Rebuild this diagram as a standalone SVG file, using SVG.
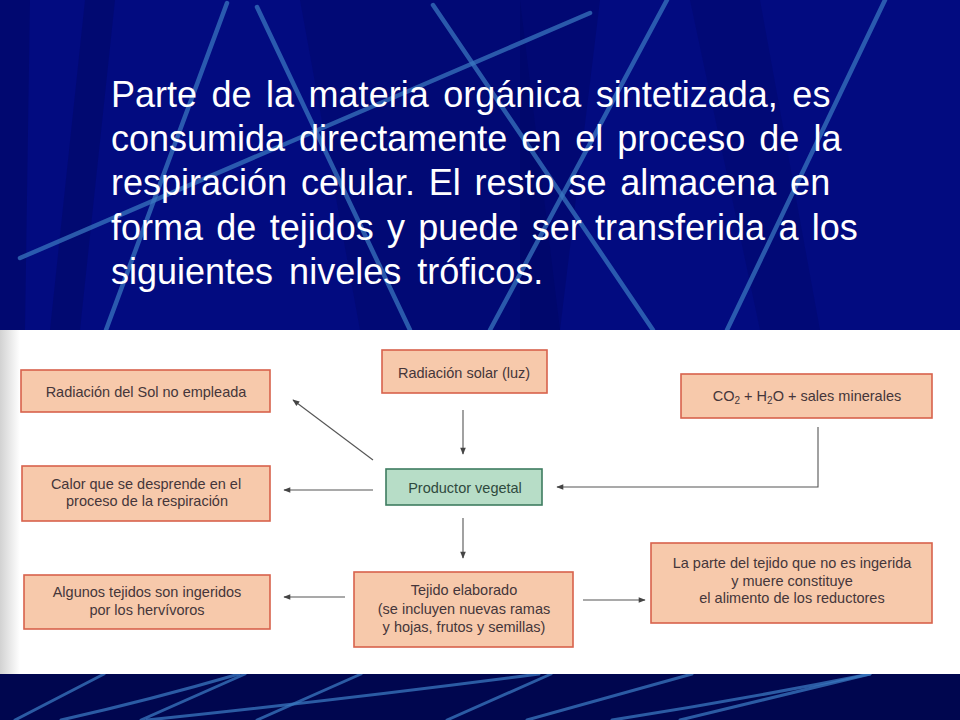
<svg xmlns="http://www.w3.org/2000/svg" width="960" height="720" viewBox="0 0 960 720">
<defs>
<style>
.bgline{stroke:#3a78c0;stroke-width:4.5;stroke-linecap:round;fill:none;opacity:0.72}
.bgline2{stroke:#3a78c0;stroke-width:3;stroke-linecap:round;fill:none;opacity:0.75}
.title{font-family:"Liberation Sans",Arial,sans-serif;font-size:36px;fill:#ffffff}
.box{fill:#f7c9ab;stroke:#d8624c;stroke-width:1.6}
.gbox{fill:#b7ddc7;stroke:#3e7c60;stroke-width:1.6}
.lbl{font-family:"Liberation Sans",Arial,sans-serif;font-size:14.5px;fill:#45363a;text-anchor:middle}
.glbl{font-family:"Liberation Sans",Arial,sans-serif;font-size:14.5px;fill:#2f4a3e;text-anchor:middle}
.conn{stroke:#555555;stroke-width:1.1;fill:none}
</style>
<marker id="ah" viewBox="0 0 10 10" refX="9" refY="5" markerWidth="9" markerHeight="7" markerUnits="userSpaceOnUse" orient="auto">
<path d="M0,1 L10,5 L0,9 Z" fill="#444444"/>
</marker>
<linearGradient id="lshade" x1="0" y1="0" x2="1" y2="0">
<stop offset="0" stop-color="#d2d2d2"/>
<stop offset="1" stop-color="#ffffff"/>
</linearGradient>
</defs>

<g id="background">
<rect x="0" y="0" width="960" height="720" fill="#020b80"/>
<polygon points="0,0 30,0 25,330 0,330" fill="#000660" opacity="0.5"/>
<polygon points="85,0 115,0 80,330 50,330" fill="#000660" opacity="0.45"/>
<polygon points="300,0 520,0 560,330 360,330" fill="#000660" opacity="0.35"/>
<polygon points="520,0 600,0 560,330 520,330" fill="#000660" opacity="0.4"/>
<polygon points="690,0 760,0 820,330 760,330" fill="#000660" opacity="0.3"/>
<line class="bgline" x1="20" y1="258" x2="590" y2="13"/>
<line class="bgline" x1="227" y1="3" x2="106" y2="330"/>
<line class="bgline" x1="257" y1="7" x2="410" y2="330"/>
<line class="bgline" x1="433" y1="5" x2="653" y2="330"/>
<line class="bgline" x1="667" y1="0" x2="490" y2="330"/>
<line class="bgline" x1="885" y1="0" x2="727" y2="330"/>
<rect x="0" y="674" width="960" height="46" fill="#00064f"/>
<path class="bgline2" d="M104,674 L15,720"/>
<path class="bgline2" d="M239,674 Q150,700 61,720"/>
<path class="bgline2" d="M245,674 L141,720"/>
<path class="bgline2" d="M361,674 L257,720"/>
<path class="bgline2" d="M539,674 Q340,700 147,720"/>
<path class="bgline2" d="M551,674 L447,720"/>
<path class="bgline2" d="M692,674 L527,720"/>
<path class="bgline2" d="M870,674 Q740,700 612,720"/>
<path class="bgline2" d="M870,674 L680,720"/>
</g>

<g id="heading">
<text class="title" x="111" y="107" word-spacing="4.5">Parte de la materia orgánica sintetizada, es</text>
<text class="title" x="111" y="151" word-spacing="4">consumida directamente en el proceso de la</text>
<text class="title" x="111" y="195" word-spacing="3.8">respiración celular. El resto se almacena en</text>
<text class="title" x="111" y="240" word-spacing="3.3">forma de tejidos y puede ser transferida a los</text>
<text class="title" x="111" y="284" word-spacing="6">siguientes niveles tróficos.</text>
</g>

<g id="panel">
<rect x="0" y="330" width="960" height="344" fill="#ffffff"/>
<rect x="0" y="330" width="20" height="344" fill="url(#lshade)"/>
</g>

<g id="connectors">
<line class="conn" x1="373" y1="460" x2="293" y2="400" marker-end="url(#ah)"/>
<line class="conn" x1="373" y1="490" x2="284" y2="490" marker-end="url(#ah)"/>
<line class="conn" x1="463" y1="410" x2="463" y2="454" marker-end="url(#ah)"/>
<polyline class="conn" points="818,427 818,487 557,487" marker-end="url(#ah)"/>
<line class="conn" x1="463" y1="518" x2="463" y2="558" marker-end="url(#ah)"/>
<line class="conn" x1="345" y1="597" x2="284" y2="597" marker-end="url(#ah)"/>
<line class="conn" x1="583" y1="600" x2="645" y2="600" marker-end="url(#ah)"/>
</g>

<g id="node-sol-no-empleada">
<rect class="box" x="21" y="370" width="249" height="42"/>
<text class="lbl" x="146" y="397">Radiación del Sol no empleada</text>
</g>

<g id="node-calor">
<rect class="box" x="22" y="466" width="248" height="55"/>
<text class="lbl" x="146" y="489">Calor que se desprende en el</text>
<text class="lbl" x="147" y="506">proceso de la respiración</text>
</g>

<g id="node-radiacion-solar">
<rect class="box" x="382" y="350" width="165" height="43"/>
<text class="lbl" x="464" y="378">Radiación solar (luz)</text>
</g>

<g id="node-co2">
<rect class="box" x="681" y="374" width="251" height="44"/>
<text class="lbl" x="807" y="401">CO<tspan font-size="10" dy="3">2</tspan><tspan dy="-3"> + H</tspan><tspan font-size="10" dy="3">2</tspan><tspan dy="-3">O + sales minerales</tspan></text>
</g>

<g id="node-productor">
<rect class="gbox" x="386" y="469" width="156" height="36"/>
<text class="glbl" x="465" y="493">Productor vegetal</text>
</g>

<g id="node-herbivoros">
<rect class="box" x="24" y="575" width="246" height="54"/>
<text class="lbl" x="147" y="597">Algunos tejidos son ingeridos</text>
<text class="lbl" x="147" y="615">por los hervívoros</text>
</g>

<g id="node-tejido">
<rect class="box" x="354" y="572" width="219" height="75"/>
<text class="lbl" x="464" y="595">Tejido elaborado</text>
<text class="lbl" x="464" y="614">(se incluyen nuevas ramas</text>
<text class="lbl" x="464" y="632">y hojas, frutos y semillas)</text>
</g>

<g id="node-reductores">
<rect class="box" x="651" y="543" width="281" height="80"/>
<text class="lbl" x="792" y="568">La parte del tejido que no es ingerida</text>
<text class="lbl" x="792" y="586">y muere constituye</text>
<text class="lbl" x="792" y="603">el alimento de los reductores</text>
</g>
</svg>
